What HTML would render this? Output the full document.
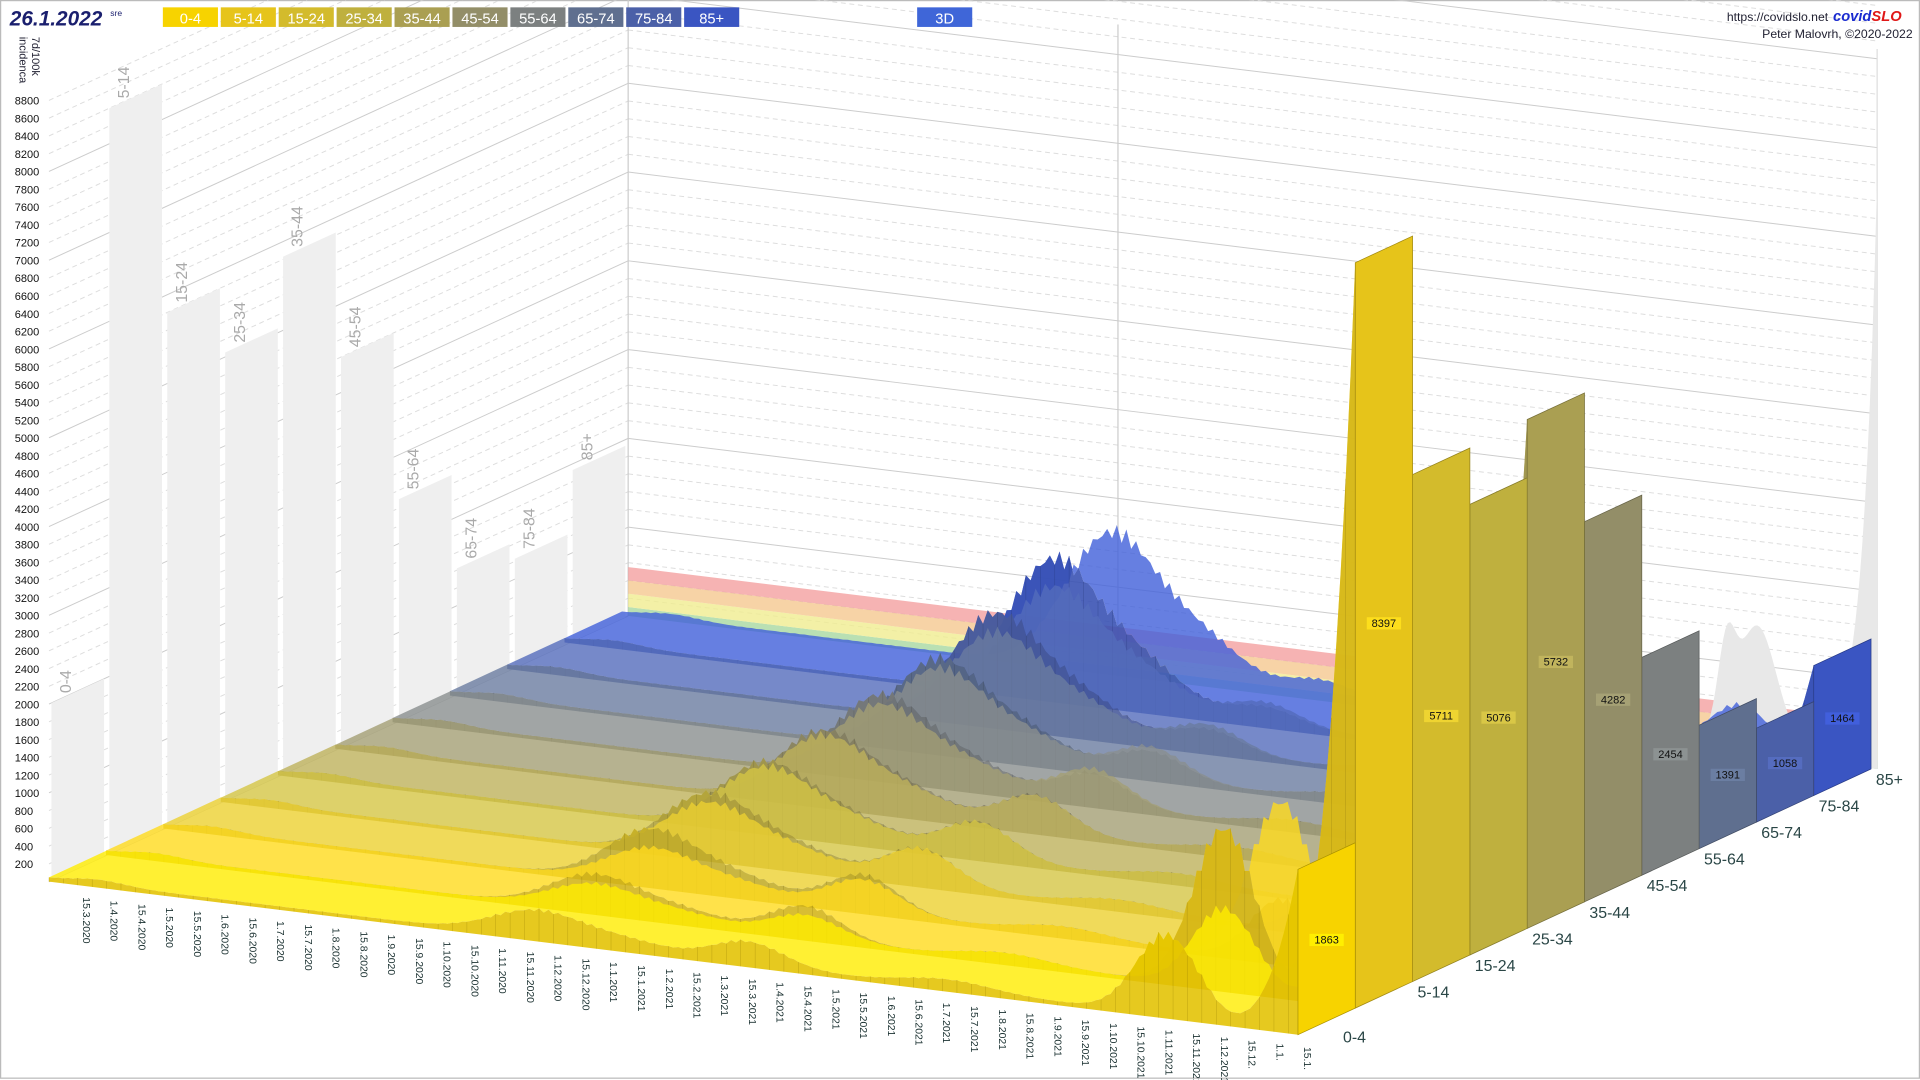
<!DOCTYPE html>
<html><head><meta charset="utf-8"><style>
html,body{margin:0;padding:0;background:#fff;overflow:hidden}
svg{display:block}
text{font-family:"Liberation Sans",sans-serif}
</style></head><body>
<svg id="s" width="1920" height="1080" viewBox="0 0 1568 882" preserveAspectRatio="none" xmlns="http://www.w3.org/2000/svg">
<rect x="0.5" y="0.5" width="1567" height="880" fill="#fff" stroke="#bbb"/>
<g id="grid"></g>
<g id="walls"></g>
<g id="surf"></g>
<g id="labels"></g>
<text x="8" y="21" font-size="17" font-weight="bold" fill="#1a1f6e" font-style="italic">26.1.2022</text>
<text x="90" y="13" font-size="7" fill="#1a1f6e">sre</text>
<g id="legend"></g>
<rect x="749" y="6" width="45" height="16" fill="#3f66d8"/>
<text x="771.5" y="19" font-size="12" fill="#fff" text-anchor="middle">3D</text>
<text x="1493" y="17" font-size="10" fill="#223" text-anchor="end">https://covidslo.net</text>
<text x="1497" y="17" font-size="12" font-weight="bold" font-style="italic" fill="#1a2bd0">covid<tspan fill="#e01818">SLO</tspan></text>
<text x="1562" y="31" font-size="10" fill="#223" text-anchor="end">Peter Malovrh, ©2020-2022</text>
<text transform="translate(26,30) rotate(90)" font-size="9" fill="#223">7d/100k</text>
<text transform="translate(16,30) rotate(90)" font-size="9" fill="#223">incidenca</text>
</svg>
<script>
const NS="http://www.w3.org/2000/svg";
function el(p,t,a,txt){const e=document.createElementNS(NS,t);for(const k in a)e.setAttribute(k,a[k]);if(txt!=null)e.textContent=txt;document.getElementById(p).appendChild(e);return e;}
const K=0.0725, DX=46.8, DY=-21.7, TX=1020, TY=125;
const ages=["0-4","5-14","15-24","25-34","35-44","45-54","55-64","65-74","75-84","85+"];
const cols=["#f7d300","#e6c41a","#d3bb2c","#bfb03e","#aa9f52","#938e68","#7c8080","#5f6f8f","#4b60a8","#3a55c2"];
const fin=[1863,8397,5711,5076,5732,4282,2454,1391,1058,1464];
const maxs=[2000,8400,5800,5050,5830,4400,2500,1420,1230,1930];
ages.forEach((a,i)=>{const x=133+i*47.3;el("legend","rect",{x:x,y:6,width:45,height:16,fill:cols[i]});el("legend","text",{x:x+22.5,y:19,"font-size":12,fill:"#fff","text-anchor":"middle"},a);});
for(let v=200;v<=8800;v+=200){
  const y0=720-v*K;
  el("grid","text",{x:12,y:y0+3.5,"font-size":9,fill:"#111"},v);
  const solid=v%1000==0;
  el("grid","line",{x1:40,y1:y0,x2:513,y2:y0-217,stroke:solid?"#ccc":"#ddd","stroke-dasharray":solid?"":"4,3","stroke-width":0.8});
  el("grid","line",{x1:513,y1:y0-217,x2:1533,y2:y0-217+125,stroke:solid?"#ccc":"#ddd","stroke-dasharray":solid?"":"4,3","stroke-width":0.8});
}
el("grid","line",{x1:513,y1:0,x2:513,y2:503,stroke:"#ccc"});
el("grid","line",{x1:913,y1:20,x2:913,y2:553,stroke:"#ccc"});
el("grid","line",{x1:1533,y1:40,x2:1533,y2:628,stroke:"#ddd"});
el("grid","line",{x1:40,y1:720,x2:513,y2:503,stroke:"#ccc"});
const bands=[["#a8d8a0",0,100],["#f0ec90",100,250],["#f5c890",250,400],["#f4a0a0",400,550]];
bands.forEach(b=>{const p=[[513,503-b[1]*K],[1533,628-b[1]*K],[1533,628-b[2]*K],[513,503-b[2]*K]];el("walls","polygon",{points:p.map(q=>q.join(",")).join(" "),fill:b[0],opacity:0.8});});
ages.forEach((a,i)=>{const x1=40+i*47.3+2,x2=x1+43;const f=x=>720-0.4588*(x-40);const h=maxs[i]*K;
 el("walls","polygon",{points:`${x1},${f(x1)} ${x2},${f(x2)} ${x2},${f(x2)-h} ${x1},${f(x1)-h}`,fill:"#efefef"});
 el("walls","text",{transform:`translate(${x1+16},${f(x1)-h-8}) rotate(-90)`,"font-size":13,fill:"#aaa"},a);});
(function(){let pts=[];for(let x=1385;x<=1533;x+=2){const t=(x-513)/1020;const base=503+125*t;let v=150+1300*Math.exp(-Math.pow((x-1435)/22,2))+900*Math.exp(-Math.pow((x-1410)/10,2));if(x>1495)v+=6500*Math.exp((x-1533)/12);pts.push([x,base-v*K]);}
pts.push([1533,628]);pts.push([1385,610]);el("walls","polygon",{points:pts.map(q=>q.join(",")).join(" "),fill:"#e8e8e8"});})();
const W=(t,c,s)=>Math.exp(-Math.pow((t-c)/s,2));
const a1=[300,400,600,700,750,800,900,1000,1200,1500];
const a2=[250,350,400,400,400,400,350,300,250,200];
const a3=[900,1800,700,800,900,700,550,450,400,500];
function val(i,t){let v=40+50*W(t,0.04,0.03)+a1[i]*W(t,0.39,0.05)+0.35*a1[i]*W(t,0.46,0.05)+a2[i]*W(t,0.56,0.04)+a3[i]*W(t,0.895,0.035)+100*W(t,0.72,0.05);
 v*=1+0.06*Math.sin(t*900+i);
 if(t>0.93){v=v+(fin[i]-v*0.5)*Math.pow((t-0.93)/0.07,3);}return v;}
function P(t,d,v){return [40+TX*t+DX*d,720+TY*t+DY*d-v*K];}
function shade(c,f){const n=parseInt(c.slice(1),16);let r=n>>16,g=(n>>8)&255,b=n&255;r=Math.min(255,r*f|0);g=Math.min(255,g*f|0);b=Math.min(255,b*f|0);return `rgb(${r},${g},${b})`;}
const N=260;
for(let i=9;i>=0;i--){
 const vs=[];for(let k=0;k<=N;k++)vs.push(val(i,k/N));vs[N]=fin[i];
 let top=[];for(let k=0;k<=N;k++)top.push(P(k/N,i,vs[k]));for(let k=N;k>=0;k--)top.push(P(k/N,i+1,vs[k]));
 el("surf","polygon",{points:top.map(q=>q[0].toFixed(1)+","+q[1].toFixed(1)).join(" "),fill:shade(cols[i],1.12),opacity:0.8});
 let hp="";for(let k=0;k<=N;k+=3){const a=P(k/N,i,vs[k]),b=P(k/N,i,0);hp+=`M${a[0].toFixed(1)},${a[1].toFixed(1)}L${b[0].toFixed(1)},${b[1].toFixed(1)}`;}
 let fr=[];for(let k=0;k<=N;k++)fr.push(P(k/N,i,vs[k]));fr.push(P(1,i,0));fr.push(P(0,i,0));
 el("surf","polygon",{points:fr.map(q=>q[0].toFixed(1)+","+q[1].toFixed(1)).join(" "),fill:shade(cols[i],0.92),opacity:0.88});
 el("surf","path",{d:hp,stroke:shade(cols[i],0.6),"stroke-width":0.4,opacity:0.5});
 const h=fin[i]*K;const x0=1060+DX*i,y0=845+DY*i;
 el("surf","polygon",{points:`${x0},${y0} ${x0+DX},${y0+DY} ${x0+DX},${y0+DY-h} ${x0},${y0-h}`,fill:cols[i],stroke:shade(cols[i],0.7),"stroke-width":0.6});
 const cy=y0+DY/2-h/2+4;
 el("surf","rect",{x:x0+DX/2-14,y:cy-8,width:28,height:10,fill:shade(cols[i],1.15),opacity:0.9});
 el("surf","text",{x:x0+DX/2,y:cy,"font-size":9,fill:"#111","text-anchor":"middle"},fin[i]);
 el("labels","text",{x:x0+DX+4+ (i==0?-14:0),y:y0+DY+13+(i==0?15:0),"font-size":13,fill:"#2a4646"},ages[i]);
}
const dl=[];let y=2020,m=3;
for(let k=0;k<45;k++){const day=(k%2==0)?15:1;
 if(day==1){m++;if(m>12){m=1;y++;}}
 const mm=m+(day==15?0.5:0)-3.5+(y-2020)*12; const t=(mm+0.5)/22.5;
 let s=day+"."+m+"."+y; if(y==2022||(y==2021&&m==12&&day==15))s=day+"."+m+".";
 dl.push([t,s]);}
dl.forEach(d=>{const x=40+TX*d[0]+5,yy=720+TY*d[0]+10;el("labels","text",{transform:`translate(${x.toFixed(1)},${yy.toFixed(1)}) rotate(90)`,"font-size":8.5,fill:"#1a3030"},d[1]);});
</script>
</body></html>
